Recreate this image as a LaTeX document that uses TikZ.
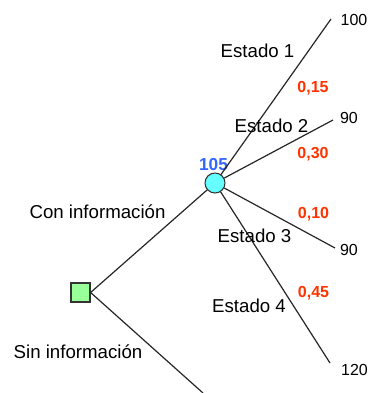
\documentclass[tikz,border=0pt]{standalone}
\usepackage{fontspec}
\setmainfont{Liberation Sans}
\definecolor{mint}{HTML}{99FF99}
\definecolor{aqua}{HTML}{66FFFF}
\definecolor{probred}{HTML}{FF3300}
\definecolor{valblue}{HTML}{3366FF}
\definecolor{edge}{HTML}{333333}
\tikzset{
  decision/.style={rectangle,draw=edge,line width=0.9pt,fill=mint,minimum size=14.25pt,inner sep=0pt},
  chance/.style={circle,draw=edge,line width=0.8pt,fill=aqua,minimum size=15pt,inner sep=0pt},
  branch/.style={draw=black!85,line width=0.9pt},
  tag/.style={font=\fontsize{14}{17}\selectfont,inner sep=0pt,anchor=base},
  leaf/.style={font=\fontsize{12}{14}\selectfont,inner sep=0pt,anchor=base},
  prob/.style={font=\fontsize{12}{14}\selectfont\bfseries,text=probred,inner sep=0pt,anchor=base}
}

\begin{document}
\begin{tikzpicture}[x=0.75pt,y=-0.75pt]
  \useasboundingbox (0,0) rectangle (370,393);

  % decision and chance nodes
  \node[decision] (sq) at (80.5,292.5) {};
  \node[chance] (c) at (215,183) {};
  \node[font=\fontsize{13}{15}\selectfont\bfseries,text=valblue,inner sep=0pt,anchor=base] (ev) at (213.5,170) {105};

  % free ends of the branches
  \coordinate (e1) at (331,19);
  \coordinate (e2) at (333,120);
  \coordinate (e3) at (335,248);
  \coordinate (e4) at (330,363);
  \coordinate (e5) at (203,393);

  \draw[branch] (sq.east) -- (c);
  \draw[branch] (sq.east) -- (e5);
  \foreach \e in {e1,e2,e3,e4} {
    \draw[branch] (c) -- (\e);
  }

  % outcomes
  \node[leaf] (v1) at (354,25) {100};
  \node[leaf] (v2) at (349,123) {90};
  \node[leaf] (v3) at (349,255) {90};
  \node[leaf] (v4) at (354.5,375) {120};

  % states and probabilities
  \node[tag] (s1) at (257.5,57) {Estado 1};
  \node[tag] (s2) at (271.5,132) {Estado 2};
  \node[tag] (s3) at (254.5,242) {Estado 3};
  \node[tag] (s4) at (249,312) {Estado 4};
  \node[prob] (p1) at (313,92.5) {0,15};
  \node[prob] (p2) at (313,158.5) {0,30};
  \node[prob] (p3) at (313.5,218.5) {0,10};
  \node[prob] (p4) at (313.5,297.5) {0,45};

  \node[tag] (con) at (97.5,218) {Con información};
  \node[tag] (sin) at (78,358) {Sin información};
\end{tikzpicture}
\end{document}
